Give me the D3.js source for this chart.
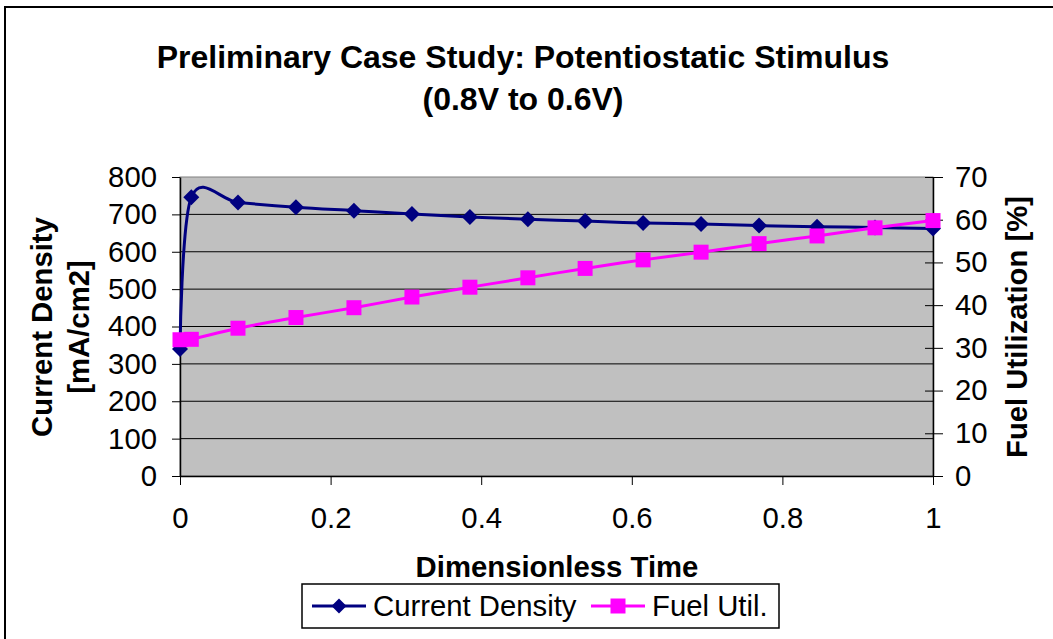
<!DOCTYPE html>
<html>
<head>
<meta charset="utf-8">
<script src="https://cdn.jsdelivr.net/npm/d3@7"></script>
<style>
  body { margin: 0; background: #fff; }
  text { font-family: Arial, "Liberation Sans", sans-serif; }
</style>
</head>
<body>
<div id="chart"></div>
<script>
// values
const timeValues = [0, 0.015, 0.077, 0.154, 0.231, 0.308, 0.385, 0.462, 0.538, 0.615, 0.692, 0.769, 0.846, 0.923, 1];
const currentDensity = [340, 746, 732, 719, 710, 701, 693, 687, 682, 677, 674, 670, 667, 665, 662];
const fuelUtil = [31.9, 32.0, 34.6, 37.1, 39.4, 41.9, 44.2, 46.4, 48.6, 50.6, 52.4, 54.4, 56.2, 58.1, 59.8];
const xTicks = [0, 0.2, 0.4, 0.6, 0.8, 1];
const leftTicks = [0, 100, 200, 300, 400, 500, 600, 700, 800];
const rightTicks = [0, 10, 20, 30, 40, 50, 60, 70];
const titleLines = ["Preliminary Case Study: Potentiostatic Stimulus", "(0.8V to 0.6V)"];
const seriesNames = ["Current Density", "Fuel Util."];

const width = 1053, height = 639;
const plot = { left: 180, right: 933, top: 177, bottom: 476 };
const navy = "#000080", magenta = "#ff00ff";
const labelSize = "29.3px";

const svg = d3.select("#chart").append("svg")
    .attr("width", width)
    .attr("height", height);

svg.append("rect").attr("width", width).attr("height", height).attr("fill", "#fff");

// outer chart border (runs off right / bottom)
svg.append("rect")
    .attr("x", 5).attr("y", 7)
    .attr("width", 1100).attr("height", 700)
    .attr("fill", "none").attr("stroke", "#000").attr("stroke-width", 2);

const x = d3.scaleLinear().domain([0, 1]).range([plot.left, plot.right]);
const yL = d3.scaleLinear().domain([0, 800]).range([plot.bottom, plot.top]);
const yR = d3.scaleLinear().domain([0, 70]).range([plot.bottom, plot.top]);

// plot area
svg.append("rect")
    .attr("x", plot.left).attr("y", plot.top)
    .attr("width", plot.right - plot.left).attr("height", plot.bottom - plot.top)
    .attr("fill", "#c0c0c0").attr("stroke", "#808080").attr("stroke-width", 1);

// gridlines
svg.append("g")
    .selectAll("line")
    .data(leftTicks.filter(d => d > 0 && d < 800))
    .join("line")
    .attr("x1", plot.left).attr("x2", plot.right)
    .attr("y1", d => yL(d)).attr("y2", d => yL(d))
    .attr("stroke", "#000").attr("stroke-width", 1);

// axes
const leftAxis = svg.append("g")
    .attr("transform", `translate(${plot.left},0)`)
    .call(d3.axisLeft(yL).tickValues(leftTicks).tickSizeInner(8).tickSizeOuter(0).tickPadding(15).tickFormat(d3.format("d")));

const rightAxis = svg.append("g")
    .attr("transform", `translate(${plot.right},0)`)
    .call(d3.axisRight(yR).tickValues(rightTicks).tickSizeInner(10).tickSizeOuter(0).tickPadding(12).tickFormat(d3.format("d")));
rightAxis.selectAll(".tick line").attr("x1", -8);

const bottomAxis = svg.append("g")
    .attr("transform", `translate(0,${plot.bottom})`)
    .call(d3.axisBottom(x).tickValues(xTicks).tickSizeInner(9).tickSizeOuter(0).tickPadding(22).tickFormat(d => String(d)));

[leftAxis, rightAxis, bottomAxis].forEach(g => {
    g.select(".domain").attr("stroke", "#000").attr("stroke-width", 1.5);
    g.selectAll(".tick line").attr("stroke", "#000").attr("stroke-width", 1);
    g.selectAll(".tick text").attr("fill", "#000").style("font-size", labelSize).style("font-family", "Arial, 'Liberation Sans', sans-serif");
});

// series
const smooth = d3.curveCatmullRom.alpha(0);
const curLine = d3.line().x((d, i) => x(timeValues[i])).y(d => yL(d)).curve(smooth);
const fuelLine = d3.line().x((d, i) => x(timeValues[i])).y(d => yR(d)).curve(smooth);

const diamond = s => `M0,${-s}L${s},0L0,${s}L${-s},0Z`;
const square = s => `M${-s},${-s}H${s}V${s}H${-s}Z`;

svg.append("path")
    .attr("d", curLine(currentDensity))
    .attr("fill", "none").attr("stroke", navy).attr("stroke-width", 3);
svg.append("g")
    .selectAll("path")
    .data(currentDensity)
    .join("path")
    .attr("transform", (d, i) => `translate(${x(timeValues[i])},${yL(d)})`)
    .attr("d", diamond(8))
    .attr("fill", navy);

svg.append("path")
    .attr("d", fuelLine(fuelUtil))
    .attr("fill", "none").attr("stroke", magenta).attr("stroke-width", 3);
svg.append("g")
    .selectAll("path")
    .data(fuelUtil)
    .join("path")
    .attr("transform", (d, i) => `translate(${x(timeValues[i])},${yR(d)})`)
    .attr("d", square(7.5))
    .attr("fill", magenta);

// titles
svg.append("text")
    .attr("text-anchor", "middle")
    .style("font-size", "32px").style("font-weight", "bold")
    .selectAll("tspan")
    .data(titleLines)
    .join("tspan")
    .attr("x", 523)
    .attr("y", (d, i) => 68 + i * 42)
    .text(d => d);

svg.append("text")
    .attr("x", 557).attr("y", 577)
    .attr("text-anchor", "middle")
    .style("font-size", labelSize).style("font-weight", "bold")
    .text("Dimensionless Time");

svg.append("text")
    .attr("transform", "translate(52,327) rotate(-90)")
    .attr("text-anchor", "middle")
    .style("font-size", labelSize).style("font-weight", "bold")
    .text("Current Density");
svg.append("text")
    .attr("transform", "translate(89,327) rotate(-90)")
    .attr("text-anchor", "middle")
    .style("font-size", labelSize).style("font-weight", "bold")
    .text("[mA/cm2]");

svg.append("text")
    .attr("transform", "translate(1027,327) rotate(-90)")
    .attr("text-anchor", "middle")
    .style("font-size", labelSize).style("font-weight", "bold")
    .text("Fuel Utilization [%]");

// legend
const legend = svg.append("g");
legend.append("rect")
    .attr("x", 302).attr("y", 584)
    .attr("width", 477).attr("height", 44)
    .attr("fill", "#fff").attr("stroke", "#000").attr("stroke-width", 1.5);

const legendItems = [
    { name: seriesNames[0], color: navy, marker: diamond(7.5), x0: 312 },
    { name: seriesNames[1], color: magenta, marker: square(7.5), x0: 591 },
];
const item = legend.selectAll(".item")
    .data(legendItems)
    .join("g")
    .attr("class", "item")
    .attr("transform", d => `translate(${d.x0},606)`);
item.append("line")
    .attr("x1", 0).attr("x2", 54)
    .attr("stroke", d => d.color).attr("stroke-width", 3);
item.append("path")
    .attr("transform", "translate(27,0)")
    .attr("d", d => d.marker)
    .attr("fill", d => d.color);
item.append("text")
    .attr("x", 61).attr("y", 10)
    .style("font-size", labelSize)
    .text(d => d.name);
</script>
</body>
</html>
